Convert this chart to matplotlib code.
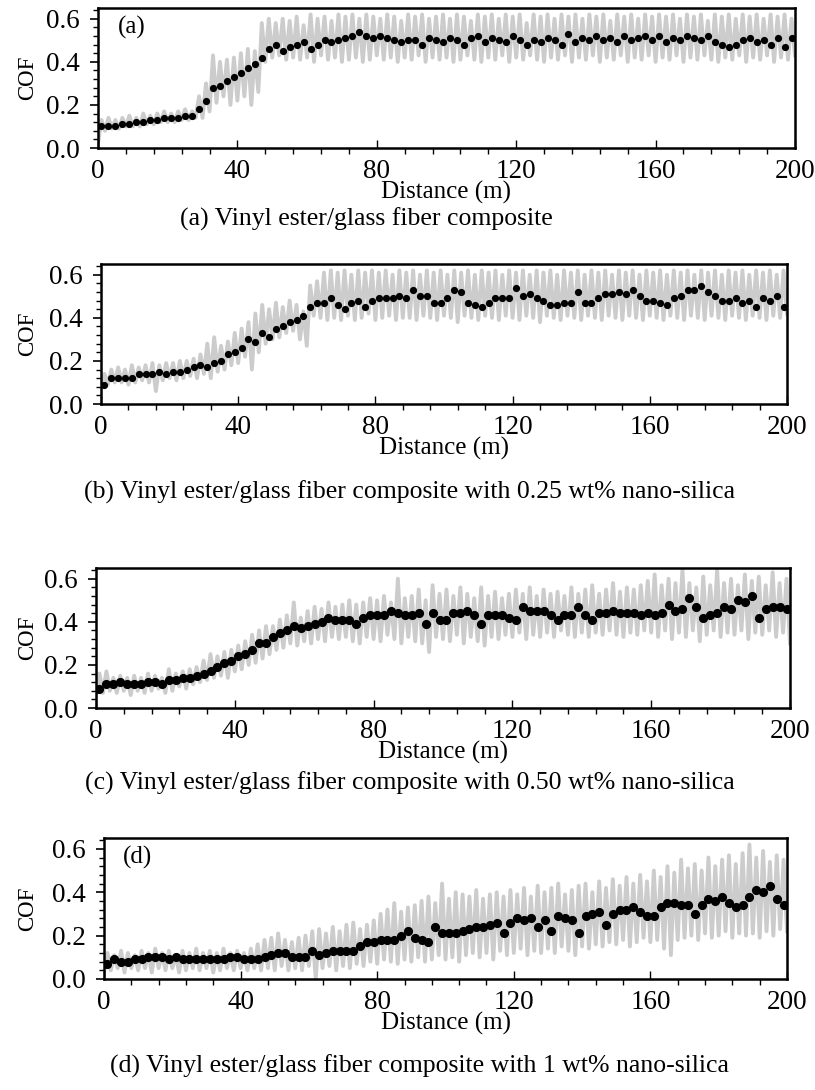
import matplotlib
matplotlib.use("Agg")
import matplotlib.pyplot as plt
from matplotlib.ticker import MultipleLocator, FormatStrFormatter
import numpy as np

plt.rcParams['font.family'] = ['Liberation Serif', 'DejaVu Serif']

# COF values in hundredths
# grey raw trace: one value per metre, 0..200 m
grey_a = [2, 13, 8, 14, 9, 13, 9, 14, 10, 15,
          10, 14, 10, 16, 11, 15, 11, 16, 12, 17,
          12, 16, 12, 17, 13, 18, 13, 17, 14, 24,
          14, 30, 17, 43, 21, 40, 24, 41, 20, 42,
          22, 44, 24, 46, 20, 45, 26, 58, 40, 60,
          42, 58, 43, 60, 41, 59, 42, 61, 41, 57,
          42, 62, 40, 60, 43, 61, 41, 59, 42, 62,
          40, 61, 41, 62, 42, 60, 40, 62, 41, 61,
          43, 60, 41, 62, 42, 61, 40, 59, 42, 62,
          41, 61, 43, 62, 40, 60, 42, 61, 41, 62,
          42, 60, 40, 62, 41, 61, 43, 59, 41, 62,
          40, 61, 42, 62, 41, 60, 43, 62, 40, 61,
          42, 62, 41, 58, 43, 62, 41, 61, 40, 62,
          42, 60, 41, 62, 43, 61, 40, 62, 42, 60,
          41, 62, 43, 61, 40, 62, 42, 59, 41, 62,
          43, 61, 40, 62, 42, 60, 41, 62, 43, 61,
          40, 62, 42, 61, 41, 62, 43, 60, 40, 62,
          42, 61, 41, 62, 43, 59, 41, 62, 40, 61,
          42, 62, 41, 60, 43, 62, 40, 61, 42, 62,
          41, 60, 43, 62, 40, 61, 42, 62, 41, 60,
          43]
grey_b = [8, 14, 9, 16, 10, 17, 10, 16, 9, 18,
          10, 17, 11, 18, 10, 19, 6, 18, 11, 19,
          12, 19, 11, 20, 12, 20, 13, 21, 12, 23,
          14, 28, 12, 31, 15, 27, 16, 29, 18, 33,
          19, 35, 22, 38, 16, 42, 24, 46, 28, 44,
          30, 47, 31, 45, 33, 48, 34, 46, 30, 43,
          27, 55, 41, 57, 40, 61, 39, 62, 40, 61,
          39, 62, 41, 60, 39, 62, 40, 61, 42, 62,
          39, 61, 40, 62, 41, 60, 39, 62, 40, 61,
          40, 62, 39, 60, 41, 62, 40, 61, 39, 62,
          41, 60, 40, 62, 38, 61, 41, 62, 40, 60,
          39, 62, 41, 61, 40, 62, 39, 60, 41, 62,
          40, 61, 39, 62, 41, 60, 40, 62, 38, 61,
          41, 62, 40, 60, 39, 62, 41, 61, 40, 62,
          39, 60, 41, 62, 40, 61, 39, 62, 41, 60,
          40, 62, 39, 61, 41, 62, 40, 60, 39, 62,
          41, 61, 40, 62, 39, 60, 41, 62, 40, 61,
          39, 62, 41, 60, 40, 62, 39, 61, 41, 62,
          40, 60, 39, 62, 41, 61, 40, 62, 39, 60,
          41, 62, 40, 61, 39, 62, 41, 60, 40, 62,
          42]
grey_c = [6, 16, 7, 17, 8, 14, 7, 15, 8, 14,
          6, 15, 8, 14, 7, 16, 8, 15, 9, 14,
          7, 18, 8, 16, 10, 17, 9, 18, 11, 19,
          12, 22, 13, 25, 14, 24, 15, 26, 14, 27,
          17, 29, 18, 31, 20, 34, 21, 36, 23, 38,
          25, 38, 27, 41, 28, 43, 30, 49, 29, 42,
          31, 45, 30, 47, 32, 46, 31, 49, 33, 47,
          32, 48, 33, 50, 31, 48, 30, 49, 33, 51,
          32, 50, 31, 52, 34, 49, 32, 60, 30, 51,
          33, 52, 31, 55, 30, 50, 26, 57, 33, 53,
          32, 55, 31, 52, 34, 56, 30, 53, 33, 51,
          31, 56, 29, 52, 33, 54, 32, 51, 34, 53,
          33, 55, 35, 53, 32, 56, 34, 52, 33, 55,
          35, 53, 33, 54, 36, 52, 34, 56, 33, 53,
          35, 55, 33, 57, 35, 53, 34, 55, 36, 58,
          34, 54, 33, 56, 35, 55, 34, 57, 36, 59,
          35, 62, 33, 57, 36, 60, 32, 58, 35, 64,
          33, 58, 36, 56, 31, 61, 34, 57, 36, 64,
          33, 58, 35, 60, 34, 57, 36, 62, 32, 59,
          35, 61, 34, 57, 36, 63, 33, 58, 35, 60,
          30]
grey_d = [3, 12, 4, 11, 5, 13, 3, 12, 5, 11,
          4, 13, 5, 12, 3, 14, 5, 12, 4, 13,
          5, 11, 3, 13, 4, 12, 5, 14, 4, 12,
          5, 13, 3, 12, 4, 14, 5, 12, 4, 13,
          5, 12, 4, 14, 5, 16, 4, 18, 5, 19,
          4, 21, 6, 18, 4, 17, 5, 19, 4, 20,
          6, 22, 0, 23, 5, 21, 6, 24, 4, 22,
          6, 25, 5, 26, 7, 23, 6, 25, 8, 27,
          7, 30, 9, 32, 8, 35, 7, 31, 9, 33,
          8, 34, 10, 36, 8, 38, 9, 35, 11, 44,
          9, 37, 10, 40, 8, 39, 11, 38, 12, 41,
          10, 37, 12, 39, 9, 40, 13, 38, 11, 41,
          12, 39, 14, 42, 11, 38, 13, 43, 12, 40,
          14, 42, 12, 44, 15, 39, 13, 41, 11, 43,
          15, 44, 14, 40, 16, 45, 15, 42, 17, 46,
          16, 43, 18, 47, 15, 44, 17, 48, 19, 45,
          17, 50, 18, 47, 14, 52, 11, 49, 18, 55,
          19, 51, 20, 53, 18, 50, 21, 56, 19, 52,
          20, 55, 22, 57, 19, 53, 21, 58, 20, 62,
          21, 56, 19, 59, 22, 54, 20, 57, 23, 55,
          22]

# black averaged points: every 2 m, 1..199 m
dots_a = [10, 10, 10, 11, 11, 12, 12, 13, 13, 14,
          14, 14, 15, 15, 18, 22, 28, 29, 31, 33,
          35, 37, 39, 42, 46, 48, 45, 47, 48, 49,
          46, 48, 50, 49, 50, 51, 52, 54, 52, 51,
          52, 51, 50, 49, 50, 50, 48, 51, 50, 49,
          51, 50, 48, 51, 52, 49, 51, 50, 49, 52,
          50, 48, 50, 49, 51, 50, 48, 53, 49, 51,
          50, 52, 50, 51, 49, 52, 50, 51, 52, 50,
          52, 49, 51, 50, 52, 51, 50, 52, 49, 48,
          47, 48, 50, 51, 49, 50, 48, 51, 47, 51]
dots_b = [9, 12, 12, 12, 12, 14, 14, 14, 15, 14,
          15, 15, 16, 17, 18, 17, 19, 20, 23, 24,
          26, 30, 29, 33, 31, 35, 36, 38, 39, 41,
          45, 47, 47, 49, 46, 44, 47, 48, 45, 48,
          49, 49, 49, 50, 49, 53, 50, 50, 47, 47,
          49, 53, 52, 47, 46, 45, 47, 49, 49, 49,
          54, 50, 51, 49, 48, 46, 46, 47, 47, 52,
          47, 47, 49, 51, 51, 52, 51, 53, 50, 48,
          48, 47, 46, 49, 50, 53, 53, 55, 52, 50,
          48, 48, 49, 47, 48, 45, 49, 48, 50, 45]
dots_c = [9, 11, 11, 12, 11, 11, 11, 12, 12, 11,
          13, 13, 14, 14, 15, 16, 17, 19, 21, 22,
          24, 25, 27, 30, 30, 33, 35, 36, 38, 37,
          38, 39, 40, 42, 41, 41, 41, 39, 42, 43,
          43, 43, 45, 44, 43, 43, 44, 39, 44, 41,
          41, 44, 44, 45, 43, 39, 43, 43, 43, 42,
          41, 47, 45, 45, 45, 43, 41, 43, 43, 47,
          43, 41, 44, 44, 45, 44, 44, 44, 43, 44,
          43, 44, 48, 45, 46, 51, 47, 42, 43, 44,
          47, 46, 50, 49, 52, 42, 46, 47, 47, 46]
dots_d = [7, 9, 8, 8, 9, 9, 10, 10, 10, 9,
          10, 9, 9, 9, 9, 9, 9, 9, 10, 10,
          9, 9, 9, 10, 11, 12, 12, 10, 10, 10,
          13, 11, 12, 13, 13, 13, 13, 15, 17, 17,
          18, 18, 18, 20, 22, 19, 18, 17, 24, 21,
          21, 21, 22, 23, 24, 24, 25, 26, 21, 26,
          28, 27, 28, 24, 27, 22, 29, 28, 27, 21,
          29, 30, 31, 25, 30, 32, 32, 33, 31, 29,
          29, 33, 35, 35, 34, 34, 30, 34, 37, 36,
          38, 35, 33, 34, 38, 41, 40, 43, 37, 34]

captions = ["(a) Vinyl ester/glass fiber composite",
            "(b) Vinyl ester/glass fiber composite with 0.25 wt% nano-silica",
            "(c) Vinyl ester/glass fiber composite with 0.50 wt% nano-silica",
            "(d) Vinyl ester/glass fiber composite with 1 wt% nano-silica"]
inner_tags = ["(a)", None, None, "(d)"]

W, H = 815, 1090
# axes boxes in pixels: left, right, top, bottom
boxes = [(98, 795, 8, 148), (101, 787, 264, 404),
         (96, 790, 568, 708), (104, 787, 838, 979)]
caption_xy = [(366, 219), (410, 492), (410, 783), (419, 1066)]
marker_sizes = [5.2, 5.2, 6.6, 6.6]

greys = [grey_a, grey_b, grey_c, grey_d]
dots = [dots_a, dots_b, dots_c, dots_d]
grey_x = np.arange(len(grey_a))
dot_x = np.arange(1, 200, 2)

fig = plt.figure(figsize=(W / 100, H / 100), dpi=100)

for i in range(4):
    l, r, t, b = boxes[i]
    ax = fig.add_axes([l / W, 1 - b / H, (r - l) / W, (b - t) / H])
    ax.plot(grey_x, np.array(greys[i]) / 100, color='#cccccc', lw=2.8,
            zorder=1)
    ax.plot(dot_x, np.array(dots[i]) / 100, 'o', color='black',
            ms=marker_sizes[i], mew=0, zorder=2)

    ax.set_xlim(0, 200)
    ax.set_ylim(0, 0.65)
    ax.xaxis.set_major_locator(MultipleLocator(40))
    ax.xaxis.set_minor_locator(MultipleLocator(8))
    ax.yaxis.set_major_locator(MultipleLocator(0.2))
    ax.yaxis.set_minor_locator(MultipleLocator(0.04))
    ax.yaxis.set_major_formatter(FormatStrFormatter('%.1f'))

    for s in ax.spines.values():
        s.set_linewidth(1.8)
    ax.tick_params(axis='x', which='major', direction='in', length=6, width=1.0,
                   labelsize=19.5, pad=8)
    ax.tick_params(axis='x', which='minor', direction='out', length=4, width=1.0)
    ax.tick_params(axis='y', which='major', direction='out', length=6, width=1.2,
                   labelsize=19.5, pad=7)
    ax.tick_params(axis='y', which='minor', direction='out', length=3.5, width=1.0)

    ax.set_xlabel('Distance (m)', fontsize=18)
    ax.xaxis.set_label_coords(0.5, -0.235)
    ax.set_ylabel('COF', fontsize=16.5)
    ax.yaxis.set_label_coords((38 - l) / (r - l), 0.5)

    if inner_tags[i]:
        ax.text(0.028, 0.86, inner_tags[i], transform=ax.transAxes,
                fontsize=18, va='center', ha='left')

    cx, cy = caption_xy[i]
    fig.text(cx / W, 1 - cy / H, captions[i], fontsize=18.5,
             ha='center', va='center')

fig.savefig('out.png', dpi=100)
